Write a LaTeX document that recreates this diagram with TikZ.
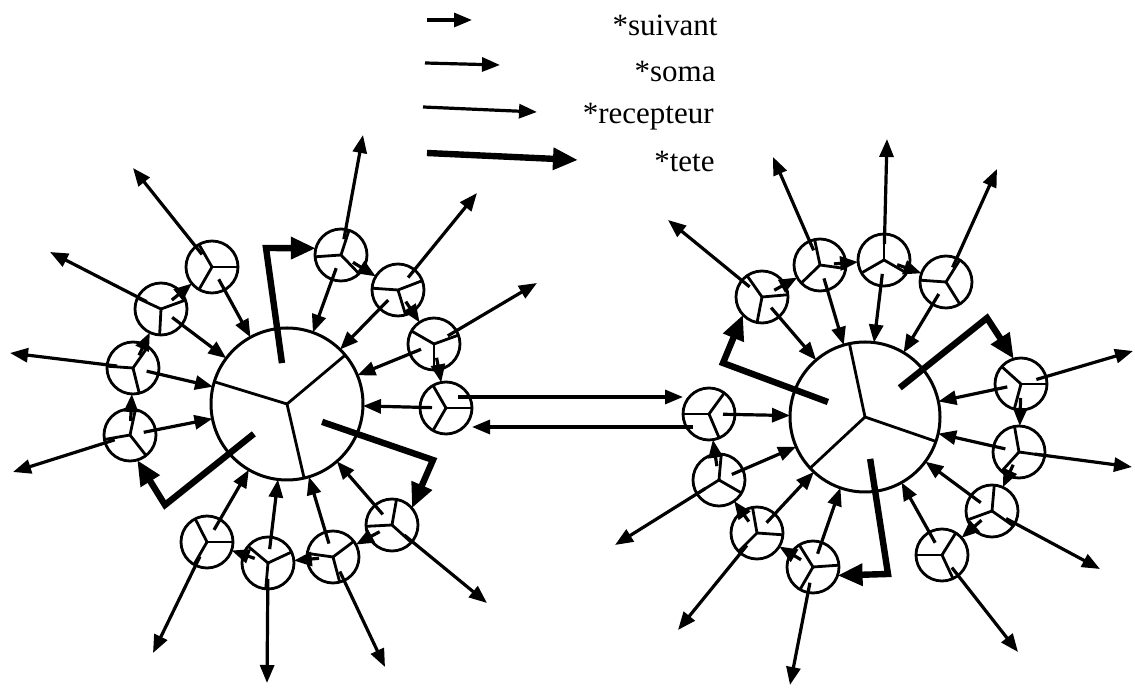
\documentclass[tikz,border=0pt]{standalone}
\usepackage{fontspec}
\setmainfont{Liberation Serif}
\usepackage{tikz}
\usetikzlibrary{arrows.meta, calc}
\tikzset{
  cellnode/.style  = {circle, draw, line width=1.4pt, minimum size=26pt,
                      inner sep=0pt, outer sep=0pt,
                      path picture={\foreach \a in {#1}
                        \draw[line width=1.4pt] (path picture bounding box.center) -- ++(\a:15pt);}},
  somanode/.style  = {circle, draw, line width=1.5pt, minimum size=76pt,
                      inner sep=0pt, outer sep=0pt,
                      path picture={\foreach \a in {#1}
                        \draw[line width=1.4pt] (path picture bounding box.center) -- ++(\a:40pt);}},
  legtext/.style   = {font=\fontsize{15.5}{18}\selectfont, inner sep=0pt},
  suiv/.style      = {-{Triangle[length=9pt, width=7pt]}, line width=1.6pt},
  tosoma/.style    = {suiv},
  recep/.style     = {suiv},
  tetearrow/.style = {-{Triangle[length=12.5pt, width=10.5pt]}, line width=3.2pt},
}

\begin{document}
\begin{tikzpicture}[x=0.5pt, y=-0.5pt]
  \useasboundingbox (0,0) rectangle (1135,688);

  % legend
  \node[legtext, anchor=base east] (suivtxt) at (718,36) {*suivant};
  \node[legtext, anchor=base east] (somatxt) at (716,82) {*soma};
  \node[legtext, anchor=base east] (receptxt) at (714,124) {*recepteur};
  \node[legtext, anchor=base east] (tetetxt) at (715,172) {*tete};
  \coordinate (k1) at (427,20);  \coordinate (k1e) at (472,20);
  \coordinate (k2) at (425,63);  \coordinate (k2e) at (500,65);
  \coordinate (k3) at (423,107); \coordinate (k3e) at (537,112);
  \coordinate (k4) at (427,153); \coordinate (k4e) at (578,160);
  \draw[suiv] (k1) -- (k1e);
  \draw[tosoma] (k2) -- (k2e);
  \draw[recep] (k3) -- (k3e);
  \draw[tetearrow] (k4) -- (k4e);

  % left soma and its cells
  \node[somanode={163,40,-77}] (bigL) at (287,404) {};
  \node[cellnode={120,0,240}]  (s1)  at (212,267) {};
  \node[cellnode={155,20,267}] (s2)  at (161,309) {};
  \node[cellnode={55,176,284}] (s3)  at (133,368) {};
  \node[cellnode={78,190,308}] (s4)  at (130,435) {};
  \node[cellnode={72,184,314}] (s5)  at (341,255) {};
  \node[cellnode={21,176,287}] (s6)  at (398,290) {};
  \node[cellnode={150,20,270}] (s7)  at (434,344) {};
  \node[cellnode={120,0,240}]  (s8)  at (446,408) {};
  \node[cellnode={80,183,318}] (s9)  at (392,525) {};
  \node[cellnode={37,172,285}] (s10) at (333,557) {};
  \node[cellnode={140,25,265}] (s11) at (268,563) {};
  \node[cellnode={117,0,240}]  (s12) at (207,542) {};

  % right soma and its cells
  \node[somanode={102,-19,-137}, minimum size=75pt] (bigR) at (865,417) {};
  \node[cellnode={125,5,259}]   (r1)  at (762,297) {};
  \node[cellnode={102,224,352}] (r2)  at (820,265) {};
  \node[cellnode={90,210,330}]  (r3)  at (884,260) {};
  \node[cellnode={58,176,302}]  (r4)  at (946,282) {};
  \node[cellnode={138,0,255}]   (r5)  at (1021,384) {};
  \node[cellnode={100,228,352}] (r6)  at (1019,452) {};
  \node[cellnode={85,200,325}]  (r7)  at (992,511) {};
  \node[cellnode={58,180,295}]  (r8)  at (942,555) {};
  \node[cellnode={122,4,240}]   (r9)  at (813,567) {};
  \node[cellnode={100,356,225}] (r10) at (757,533) {};
  \node[cellnode={85,212,330}]  (r11) at (719,480) {};
  \node[cellnode={54,180,293}]  (r12) at (709,414) {};

  % free ends of the outgoing arrows
  \coordinate (s1o) at (133,168);  \coordinate (s2o) at (50,252);
  \coordinate (s3o) at (10,353);   \coordinate (s4o) at (13,472);
  \coordinate (s5o) at (363,135);  \coordinate (s6o) at (477,193);
  \coordinate (s7o) at (537,283);  \coordinate (s9o) at (487,603);
  \coordinate (s10o) at (385,667); \coordinate (s11o) at (267,683);
  \coordinate (s12o) at (153,653);
  \coordinate (r1o) at (668,220);  \coordinate (r2o) at (773,157);
  \coordinate (r3o) at (887,139);  \coordinate (r4o) at (997,169);
  \coordinate (r5o) at (1133,351); \coordinate (r6o) at (1132,467);
  \coordinate (r7o) at (1100,569); \coordinate (r8o) at (1018,652);
  \coordinate (r9o) at (790,685);  \coordinate (r10o) at (678,630);
  \coordinate (r11o) at (615,545);

  % cells -> soma
  \foreach \c in {s1,s2,s3,s4,s5,s6,s7,s8,s9,s10,s11,s12}
    \draw[tosoma] ($(\c)!7pt!(bigL)$) -- (bigL);
  \foreach \c in {r1,r2,r3,r4,r5,r6,r7,r8,r9,r10,r11,r12}
    \draw[tosoma] ($(\c)!7pt!(bigR)$) -- (bigR);

  % outgoing arrows
  \foreach \c in {s1,s2,s3,s4,s5,s6,s7,s9,s10,s11,s12,
                  r1,r2,r3,r4,r5,r6,r7,r8,r9,r10,r11}
    \draw[recep] ($(\c)!8pt!(\c o)$) -- (\c o);

  % suivant chains
  \foreach \a/\b in {s4/s3,s3/s2,s2/s1,s5/s6,s6/s7,s7/s8,s9/s10,s10/s11,s11/s12,
                     r1/r2,r2/r3,r3/r4,r5/r6,r6/r7,r7/r8,r9/r10,r10/r11,r11/r12}
    \draw[suiv] ($(\a)!7pt!(\b)$) -- (\b);

  % link between the two somas
  \coordinate (m1) at ([shift={(6pt,5.5pt)}]s8.center);
  \coordinate (m2) at ([shift={(-8pt,-6.5pt)}]r12.center);
  \draw[recep] (m1) -- (m1 -| r12.west);
  \draw[recep] (m2) -- (m2 -| s8.east);

  % tete arrows
  \coordinate (tb1) at (266,248);
  \coordinate (tb2) at (165,505);
  \coordinate (tb3) at (433,460);
  \coordinate (tb4) at (723,363);
  \coordinate (tb5) at (987,318);
  \coordinate (tb6) at (888,574);
  \draw[tetearrow] ([shift={(97:20.6pt)}]bigL.center) -- (tb1) -- (s5.165);
  \draw[tetearrow] ([shift={(222:22.3pt)}]bigL.center) -- (tb2) -- (s4.286);
  \draw[tetearrow] ([shift={(333:19.7pt)}]bigL.center) -- (tb3) -- (s9.40);
  \draw[tetearrow] ([shift={(158:20pt)}]bigR.center) -- (tb4) -- (r1.223);
  \draw[tetearrow] ([shift={(40:22.7pt)}]bigR.center) -- (tb5) -- (r5.106);
  \draw[tetearrow] ([shift={(277:21.1pt)}]bigR.center) -- (tb6) -- (r9.341);
\end{tikzpicture}
\end{document}
